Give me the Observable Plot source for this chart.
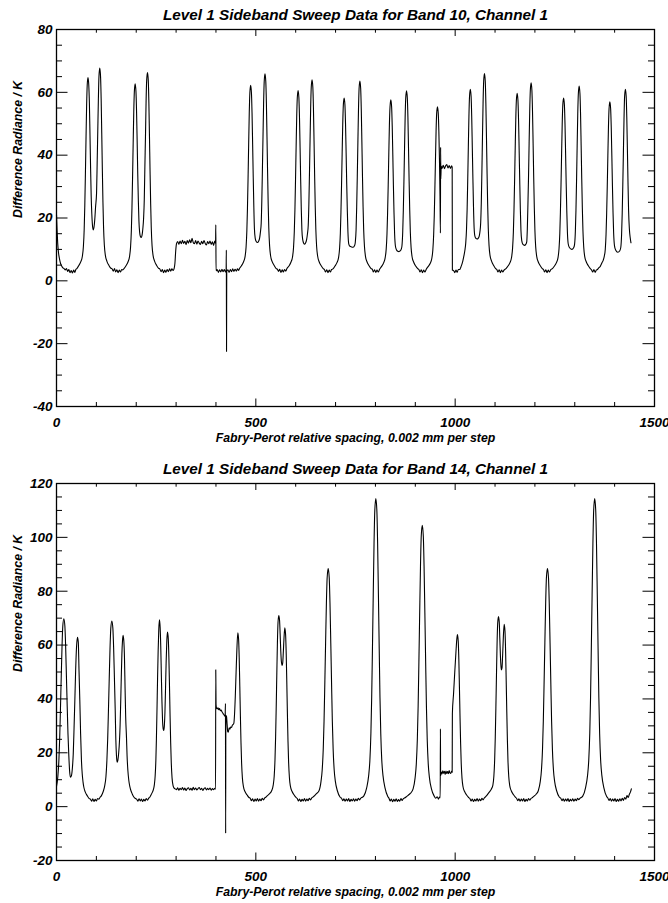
<!DOCTYPE html>
<html><head><meta charset="utf-8">
<script src="https://cdn.jsdelivr.net/npm/d3@7"></script>
<script src="https://cdn.jsdelivr.net/npm/@observablehq/plot@0.6"></script>
<style>body{margin:0;background:#fff} svg{display:block}</style>
</head><body><div id="chart"></div>
<script>
const xMajor = [0, 500, 1000, 1500];
const xMinor = [100, 200, 300, 400, 600, 700, 800, 900, 1100, 1200, 1300, 1400];
const yMajor10 = [-40, -20, 0, 20, 40, 60, 80];
const yMinor10 = [-35, -30, -25, -15, -10, -5, 5, 10, 15, 25, 30, 35, 45, 50, 55, 65, 70, 75];
const yMajor14 = [-20, 0, 20, 40, 60, 80, 100, 120];
const yMinor14 = [-15, -10, -5, 5, 10, 15, 25, 30, 35, 45, 50, 55, 65, 70, 75, 85, 90, 95, 105, 110, 115];
const titles = ["Level 1 Sideband Sweep Data for Band 10, Channel 1", "Level 1 Sideband Sweep Data for Band 14, Channel 1"];
const xLabel = "Fabry-Perot relative spacing, 0.002 mm per step";
const yLabel = "Difference Radiance / K";

// Band 10 sweep: [step, radiance K]
const band10 = [
[0,21],[1.5,16],[3,12],[5,9],[7.5,7],[10,5.6],[13,4.7],[16,4.1],[19,3.9],[22,3.5],[25,3.9],[28,3.0],[31,3.6],[34,2.6],[37,3.3],[40,2.5],[43,3.4],[46,2.7],[48.5,3.6],
[51,3.9],[56,4.9],[61,6.1],[65,7.9],[67.5,11],[69.5,16.6],[71,24],[72.5,34],[74,45],[75.5,55.4],[77,62.2],[79,64.7],[81,62.2],[82.5,56.5],[84,46.5],[85.5,36],[87,27],[88.5,21.5],[90,18],[92,16.2],[94,17],[96,19.5],[98,23.5],[100.5,28],[102,37.5],[103.5,47.5],[105,57.5],[106.5,65],[108.5,67.7],[110.5,65],[112,58],[113.5,47],[115,35.4],[116.5,25],[118,17.2],[120,11.4],[122.5,8.2],[126.5,6.2],[131.5,4.9],[136.5,4.0],
[139.5,3.8],[142.5,3.1],[145.5,3.9],[148.5,2.8],[151.5,3.5],[154.5,2.6],[157.5,3.4],[160.5,2.8],[163.5,3.6],[166.5,3.5],
[169.3,3.9],[174.3,4.8],[179.3,6],[183.3,7.8],[185.8,10.8],[187.8,16.1],[189.3,23.3],[190.8,32.9],[192.3,43.6],[193.8,53.7],[195.3,60.3],[197.3,62.7],[199.3,60.3],[200.8,54],[202.3,44.5],[203.8,34],[205.3,25.5],[206.8,19],[208.5,15.5],[210.5,14.1],[212.4,13.8],[214.5,14.5],[216.5,16.5],[218.5,20],[220.2,26],[221.7,36.5],[223.2,46],[224.7,57],[226.2,63.8],[228.2,66.3],[230.2,63.8],[231.7,56.8],[233.2,46],[234.7,34.7],[236.2,24.5],[237.7,16.9],[239.7,11.2],[242.2,8.1],[246.2,6.2],[251.2,4.9],[256.2,4.0],
[259.5,3.7],[262.5,2.9],[265.5,3.6],[268.5,2.6],[271.5,3.4],[274.5,2.7],[277.5,3.6],[280.5,2.9],[283.5,3.8],[286.5,3.1],[289.5,3.8],[292.5,3.3],[295,3.9],[297,5.5],[299,9.5],[301,11.8],
[304,12.5],[307,11.6],[310,12.7],[313,11.8],[316,12.9],[319,11.9],[322,12.6],[325,11.5],[328,12.8],[331,12.0],[334,13.1],[337,12.1],[340,13.5],[343,12.2],[346,11.8],[349,12.8],[352,11.7],[355,12.7],[358,12.0],[361,11.6],[364,12.6],[367,11.8],[370,12.8],[373,11.9],[376,11.4],[379,12.5],[382,11.8],[385,12.7],[388,11.6],[391,12.4],[394,11.3],[397,12.7],[399,12.0],[399.6,17.8],[400.2,3.2],
[403,3.6],[406,2.7],[409,3.5],[412,2.8],[415,3.7],[418,2.9],[421,3.6],[424,2.8],[425.5,3.2],[426,9.8],[426.5,-22.5],[427,3.0],[430,3.5],[433,2.7],[436,3.6],[439,2.9],[442,3.8],[445,3.0],[448,3.7],[451,3.1],[454,3.8],[457,3.3],
[459,3.9],[464,4.8],[469,6],[473,7.7],[475.5,10.7],[477.5,16],[479,23.1],[480.5,32.6],[482,43.3],[483.5,53.3],[485,59.8],[487,62.2],[489,59.8],[490.5,53.3],[492,43.4],[493.5,32.8],[495,23.4],[496.5,16.5],[498.5,13.5],[501,12.5],[504,12.2],[507,12.6],[509.5,13.6],[511.5,15.5],[513.5,18.4],[515,25.4],[516.5,35.5],[518,46],[519.5,56.5],[521,63.4],[523,65.9],[525,63.4],[526.5,56.5],[528,45.8],[529.5,34.5],[531,24.4],[532.5,16.8],[534.5,11.2],[537,8],[541,6.1],[546,4.9],[551,3.9],
[554,3.7],[557,3.0],[560,3.7],[563,2.7],[566,3.5],[569,2.8],[572,3.6],[575,3.1],[578,3.9],[583,4.7],[588,5.9],[592,7.6],[594.5,10.5],[596.5,15.7],[598,22.4],[599.5,31.8],[601,42.2],[602.5,52],[604,58.3],[606,60.6],[608,58.3],[609.5,52],[611,42.4],[612.5,32],[614,22.9],[615.5,16.3],[617.5,13.2],[620,12],[622.5,11.7],[625,12.1],[627.5,13.2],[629.5,15],[631.5,17.8],[633,24.3],[634.5,34],[636,44.5],[637.5,54.9],[639,61.6],[641,64],[643,61.6],[644.5,54.9],[646,44.5],[647.5,33.5],[649,23.7],[650.5,16.4],[652.5,10.9],[655,7.9],[659,6],[664,4.8],[669,3.9],
[672,3.6],[675,2.8],[678,3.5],[681,2.6],[684,3.4],[687,2.8],[690,3.6],[693.5,3.8],[698.5,4.7],[703.5,5.8],[707.5,7.4],[710,10.2],[712,15.1],[713.5,21.8],[715,30.6],[716.5,40.5],[718,49.9],[719.5,56],[721.5,58.2],[723.5,56],[725,49.9],[726.5,40.6],[728,30.8],[729.5,22.2],[731,15.6],[733,11.8],[736,11],[740,10.8],[744,10.7],[748,11.3],[749.5,12.3],[751.5,16.3],[753,23.6],[754.5,33.3],[756,44.2],[757.5,54.5],[759,61.2],[761,63.6],[763,61.2],[764.5,54.5],[766,44.2],[767.5,33.3],[769,23.6],[770.5,16.3],[772.5,10.9],[775,7.8],[779,6],[784,4.8],[789,3.9],
[792,3.7],[795,2.8],[798,3.5],[801,2.7],[804,3.4],[807,2.8],[810.5,3.7],[815.5,4.6],[820.5,5.7],[824.5,7.4],[827,10.1],[829,15],[830.5,21.6],[832,30.3],[833.5,40.1],[835,49.4],[836.6,55.4],[838.6,57.6],[840.6,55.4],[842.1,49.4],[843.6,40.1],[845.1,30.3],[846.6,21.6],[848.1,15],[850.1,11.1],[853,9.8],[856,9.4],[859,9.3],[862,9.5],[865,10.2],[866.5,11.1],[868.5,15.7],[870,22.6],[871.5,31.8],[873,42.1],[874.5,51.9],[876,58.2],[878,60.5],[880,58.2],[881.5,51.9],[883,42.1],[884.5,31.8],[886,22.6],[887.5,15.6],[889.5,10.5],[892,7.6],[896,5.9],[901,4.7],[906,3.9],
[909,3.6],[912,2.8],[915,3.5],[918,2.6],[921,3.4],[924,2.8],[927.5,3.7],[932.5,4.6],[937.5,5.6],[941.5,7.2],[944,9.8],[946,14.5],[947.6,20.8],[949.1,29.2],[950.6,38.6],[952.1,47.5],[953.6,53.3],[955.6,55.4],[957.6,53.3],[959.1,47.5],[960.6,38.6],[962,27],[963,15.2],[963.5,42.5],[964,32.5],[965,36.5],[967,35.8],[970,36.8],[973,35.7],[976,36.6],[979,37.0],[982,35.9],[985,36.7],[988,35.8],[991,36.6],[992.5,36.2],[993,3.4],[996,3.3],[999,2.6],[1002,3.4],[1005,2.7],[1008,3.6],
[1011,3.6],[1015,4.6],[1019,6.2],[1022,8],[1024.5,9.8],[1026.5,12],[1028.5,16.5],[1030,22.7],[1031.5,32],[1033,42.4],[1034.5,52.3],[1036,58.7],[1038,61],[1040,58.7],[1041.5,52.3],[1043,42.4],[1044.5,32.5],[1046,23.5],[1047.5,17],[1049.5,14.2],[1052,13.5],[1055,13.3],[1058,13.6],[1060.5,14.3],[1062,15.5],[1064,18.5],[1065.5,24.6],[1067,34.5],[1068.5,45.8],[1070,56.5],[1071.5,63.5],[1073.5,66],[1075.5,63.5],[1077,56.5],[1078.5,45.8],[1080,34.5],[1081.5,24.4],[1083,16.9],[1085,11.2],[1087.5,8],[1091.5,6.2],[1096.5,4.9],[1101.5,3.9],
[1104.5,3.6],[1107.5,2.8],[1110.5,3.5],[1113.5,2.6],[1116.5,3.4],[1119.5,2.8],[1122.5,3.4],[1127.5,3.9],[1132.5,4.7],[1137.5,5.8],[1141.5,7.5],[1144,10.4],[1146,15.5],[1147.5,22.3],[1149,31.4],[1150.5,41.6],[1152,51.2],[1153.5,57.4],[1155.5,59.7],[1157.5,57.4],[1159,51.2],[1160.5,41.6],[1162,31.6],[1163.5,22.6],[1165,16],[1167,12.8],[1170,11.6],[1174,11.3],[1177,11.6],[1179.5,12.4],[1181,16.5],[1182.5,24.4],[1184,33],[1185.5,43.8],[1187,54],[1188.5,60.6],[1190.5,63],[1192.5,60.6],[1194,54],[1195.5,43.8],[1197,33],[1198.5,23.4],[1200,16.2],[1202,10.8],[1204.5,7.8],[1208.5,6],[1213.5,4.8],[1218.5,3.9],
[1221.5,3.6],[1224.5,2.8],[1227.5,3.5],[1230.5,2.6],[1233.5,3.4],[1236.5,2.8],[1239.5,3.5],[1244,3.9],[1249,4.7],[1254,5.8],[1258,7.4],[1260.5,10.2],[1262.5,15.1],[1264,21.8],[1265.5,30.6],[1267,40.5],[1268.5,49.9],[1270,56],[1272,58.2],[1274,56],[1275.5,49.9],[1277,40.6],[1278.5,30.8],[1280,22.2],[1281.5,15.6],[1283.5,11.8],[1286.5,10.6],[1292.5,10],[1297.5,10.6],[1299.5,11.6],[1301.5,15.8],[1303,22.5],[1304.5,32],[1306,43],[1307.5,53.2],[1309,59.6],[1311,62],[1313,59.6],[1314.5,53.2],[1316,43.1],[1317.5,32.5],[1319,23.1],[1320.5,16],[1322.5,10.7],[1325,7.7],[1329,6],[1334,4.8],[1339,3.9],
[1342,3.5],[1345,2.8],[1348,3.6],[1351,2.7],[1354,3.4],[1357,3.6],[1360,4.1],[1364,4.6],[1368,5.7],[1371.5,6.6],[1374,7.8],[1376.5,10],[1378.5,14.9],[1380,21.4],[1381.5,30],[1383,39.7],[1384.5,48.9],[1386,54.8],[1388,57],[1390,54.8],[1391.5,48.9],[1393,39.8],[1394.5,30.2],[1396,21.7],[1397.5,15.2],[1399.5,11.3],[1402.5,9.8],[1408,9.1],[1413,9.6],[1415.5,10.7],[1417.5,14.8],[1419,21.4],[1420.5,30.6],[1422,41],[1423.5,51.3],[1425,58.7],[1427,61],[1429,58.7],[1430.5,52],[1432,42],[1433.5,31.5],[1435,22.5],[1437,16.5],[1439,13.8],[1441,12.1]
];

// Band 14 sweep: [step, radiance K]
const band14 = [
[0,7.5],[3.4,11.2],[6,17.3],[8,25.4],[9.9,36.2],[11.9,48.3],[13.9,59.7],[15.8,67.1],[18.4,69.8],[21,67.1],[22.9,59.7],[24.9,48.3],[26.9,37],[28.8,27],[30.8,19.3],[33,13],[35,10.9],[37.5,11.5],[40,14.6],[42,19.5],[44,29],[46,39.4],[48,50.5],[50.3,59.5],[52.7,62.9],[54.7,61],[56.5,50.5],[58.5,39.4],[60.5,27],[62.5,17.5],[64.5,12.2],[66.5,9.2],[68.6,7.2],[72,5.5],[77,4.1],[82,3.0],
[85,2.8],[88,2.0],[91,2.9],[94,1.9],[97,2.7],[100,2.1],[103,3.0],[106,2.8],[109,3.4],[112,3.9],[115,4.8],[118,6],[121,7.8],[124,11.1],[126.4,17.1],[128.4,25.1],[130.3,35.7],[132.3,47.7],[134.3,59],[136.2,66.2],[138.8,68.9],[141.4,66.2],[143.3,59],[145.3,47.7],[147.3,35.7],[148.8,25],[150.4,19],[152,16.5],[154,17.3],[156,20],[158,24.5],[159.5,30],[161,38.5],[162.5,48],[164,56.5],[165.5,61.5],[167,63.6],[169,61.2],[170.5,55.4],[172,44],[173.5,33.5],[175.6,25.5],[177,19],[179,13.5],[181.4,9.7],[184,7.4],[187,5.8],[190,4.7],[194,3.6],[198,3],
[201,2.8],[204,2.0],[207,2.9],[210,2.1],[213,2.8],[216,1.9],[219,2.7],[222,2.1],[225,3.0],[228,2.4],[231,3.1],[234,3.5],[237,4.3],[240,5.2],[243,6.3],[245.5,8.2],[247.5,11.5],[249.2,17],[250.6,25],[252,35.5],[253.5,47.5],[255,58],[256.6,66],[258.3,69.4],[260,66.5],[261.5,59.5],[263,49],[264.5,39],[266,32],[267.5,29],[269,28.3],[270.5,30],[272,35],[273.5,44],[275,53.5],[276.7,61.5],[278.4,64.8],[280.4,62.3],[281.9,55.4],[283.4,44.9],[284.9,33.6],[286.4,23.7],[287.9,16.2],[289.9,10.6],[292.4,7.8],[295,6.9],[298,6.6],
[301,6.3],[304,7.0],[307,6.1],[310,6.8],[313,6.3],[316,7.1],[319,6.2],[322,6.9],[325,6.0],[328,6.7],[331,7.0],[334,6.2],[337,6.8],[340,6.1],[343,7.2],[346,6.3],[349,6.9],[352,6.2],[355,6.7],[358,7.1],[361,6.3],[364,6.8],[367,6.0],[370,6.7],[373,7.0],[376,6.2],[379,6.8],[382,6.3],[385,6.9],[388,6.1],[391,6.7],[394,6.3],[397,6.8],[399,6.5],
[399.5,50.8],[400.2,38],[401,36.9],[403,36.3],[405,36.7],[407,36],[409,36.4],[411,35.6],[413,35.9],[415,35.2],[417,34.8],[419,34.3],[421,33.9],[423,33.5],[423.8,38.3],[424.3,-9.9],[424.8,33.8],[426.5,33.4],[428,30.5],[429.5,27.8],[431,27.6],[433,29.3],[435,28.8],[437,29.6],[439,29.4],[441,30.2],[443,30.5],[444.8,30.9],[446.5,34],[448.5,41],[450.5,50],[452.5,58.5],[454.8,64.6],[456.8,62.1],[458.3,55.3],[459.8,44.7],[461.3,33.6],[462.8,23.6],[464.3,16.2],[466.3,10.6],[468.8,7.5],[472.8,5.6],[477.8,4.4],[482.8,3.4],
[486,3.1],[489,2.2],[492,2.9],[495,1.9],[498,2.8],[501,2.1],[504,3.0],[507,2.0],[510,2.8],[513,2.2],[516,3.1],[519,2.5],[522,3.2],[525,3.5],[529,4.1],[534.6,4.8],[539.6,5.9],[543.6,8],[546.1,11.4],[548.1,17.6],[549.6,25.8],[551.1,36.8],[552.6,49.1],[554.1,60.7],[555.6,68.3],[557.6,71],[559.6,69],[561,64],[562.5,58],[564,54],[566,52.4],[567.5,53.5],[569,57.5],[570.8,63],[572.7,66.4],[574.7,63.8],[576.2,56.8],[577.7,46],[579.2,34.5],[580.7,24.2],[582.2,16.6],[584.2,10.8],[586.7,7.6],[590.7,5.7],[595.7,4.4],[600.7,3.4],
[604,3.0],[607,2.1],[610,2.8],[613,1.9],[616,2.7],[619,2.1],[622,3.0],[625,2.0],[628,2.8],[631,2.2],[634,3.1],[637,2.5],[640,3.2],[644,3.6],[648,4.2],[652,4.8],[658.5,5.9],[663.5,9.4],[666.5,13.7],[669.1,21.4],[671.1,31.7],[673,45.5],[675,60.9],[677,75.5],[678.9,85],[681.5,88.4],[684.1,85],[686,75.5],[688,60.9],[690,45.5],[691.9,31.7],[693.9,21.4],[696.5,13.7],[699.5,9.4],[704.5,5.9],[711.5,3.5],
[715,3.1],[718,2.2],[721,2.9],[724,2.0],[727,2.8],[730,2.1],[733,3.0],[736,1.9],[739,2.7],[742,2.1],[745,2.9],[748,2.0],[751,2.8],[754,2.2],[757,3.1],[760,2.5],[763,3.1],[767,3.5],[771,4.0],[778,7],[783,11.5],[786,17],[788.6,27.1],[790.6,40.5],[792.5,58.5],[794.5,78.6],[796.5,97.6],[798.4,109.9],[801,114.4],[803.6,109.9],[805.5,97.6],[807.5,78.6],[809.5,58.5],[811.4,40.5],[813.4,27.1],[816,17],[819,11.5],[824,7],[831,3.8],
[834,3.1],[837,2.1],[840,2.8],[843,1.8],[846,2.7],[849,2.0],[852,2.9],[855,1.9],[858,2.6],[861,2.0],[864,3.0],[867,2.3],[870,3.0],[873,3.2],[877,3.6],[882,4.2],[887.5,4.9],[894.5,6.6],[899.5,10.7],[902.5,15.8],[905.1,24.9],[907.1,37.2],[909,53.5],[911,71.9],[913,89.2],[914.9,100.4],[917.5,104.5],[920.1,100.4],[922,89.2],[924,71.9],[926,53.5],[927.9,37.2],[929.9,24.9],[932.5,15.8],[935.5,10.7],[940.5,6.6],[947.5,3.9],[951,3.1],[955,3.7],[958,2.8],[961,3.6],[962.5,3.3],[963,28.9],[963.5,11.5],[965,12.8],[967,12.1],[969,13.3],[971,12.4],[973,13.1],[975,12.0],[977,13.2],[979,12.3],[981,13.0],[983,12.2],[985,13.4],[987,12.5],[989,12.3],[991,13.1],[992.5,12.8],[993,34.5],[996,42],[999,50],[1002,57.5],[1004,62],[1005.7,63.9],[1007.7,61.4],[1009.2,54.7],[1010.7,44.3],[1012.2,33.2],[1013.7,23.4],[1015.2,16],[1017.2,10.5],[1019.7,7.4],[1023.7,5.6],[1028.7,4.3],[1033.7,3.4],
[1037,3.0],[1040,2.1],[1043,2.8],[1046,1.9],[1049,2.7],[1052,2.1],[1055,3.0],[1058,2.0],[1061,2.8],[1064,2.2],[1067,3.1],[1070,2.5],[1073,3.2],[1076.5,3.7],[1080.5,4.4],[1085.5,5.4],[1090.6,6.5],[1094.6,8],[1097.1,11.4],[1099.1,17.5],[1100.6,25.7],[1102.1,36.6],[1103.6,48.8],[1105.1,60.4],[1106.6,67.9],[1108.6,70.6],[1110.6,68.5],[1112,62.5],[1113.5,56],[1115,52],[1116,50.8],[1117.5,51.5],[1119,56],[1121,63.5],[1123,67.7],[1125,65.1],[1126.5,57.9],[1128,46.8],[1129.5,35.1],[1131,24.7],[1132.5,16.8],[1134.5,11],[1137,7.7],[1141,5.8],[1146,4.5],[1151,3.5],
[1154,3.1],[1157,2.2],[1160,2.9],[1163,2.0],[1166,2.8],[1169,2.1],[1172,3.0],[1175,1.9],[1178,2.7],[1181,2.1],[1184,3.0],[1187,2.4],[1190,3.0],[1194,3.4],[1198,3.9],[1203,4.6],[1208.5,5.9],[1213.5,9.4],[1216.5,13.7],[1219.1,21.4],[1221.1,31.7],[1223,45.5],[1225,60.9],[1227,75.5],[1228.9,85],[1231.5,88.4],[1234.1,85],[1236,75.5],[1238,60.9],[1240,45.5],[1241.9,31.7],[1243.9,21.4],[1246.5,13.7],[1249.5,9.4],[1254.5,5.9],[1261.5,3.5],
[1265,3.1],[1268,2.2],[1271,2.9],[1274,2.0],[1277,2.8],[1280,2.1],[1283,3.0],[1286,1.9],[1289,2.7],[1292,2.1],[1295,2.9],[1298,2.0],[1301,2.8],[1304,2.2],[1307,3.1],[1310,2.6],[1313,3.1],[1316,3.4],[1320,3.9],[1327,7],[1332,11.5],[1335,17],[1337.6,27.1],[1339.6,40.5],[1341.5,58.5],[1343.5,78.6],[1345.5,97.6],[1347.4,109.9],[1350,114.4],[1352.6,109.9],[1354.5,97.6],[1356.5,78.6],[1358.5,58.5],[1360.4,40.5],[1362.4,27.1],[1365,17],[1368,11.5],[1373,7],[1380,3.8],
[1383,3.2],[1386,2.3],[1389,3.0],[1392,2.0],[1395,2.8],[1398,2.1],[1401,3.0],[1404,1.9],[1407,2.7],[1410,2.0],[1413,2.9],[1416,2.1],[1419,3.1],[1422,2.3],[1425,3.4],[1428,2.8],[1431,4.1],[1434,3.4],[1437,4.6],[1440,5.6],[1442,6.6]
];

const font = {fontFamily: "'Liberation Sans', Arial, Helvetica, sans-serif", fontWeight: "bold", fontStyle: "italic", fill: "black"};

function panel({data, yDomain, yMajor, yMinor, title, height, marginTop, marginBottom}) {
  const W = 668, ml = 56, mr = 14;
  const pw = W - ml - mr, ph = height - marginTop - marginBottom;
  return Plot.plot({
    width: W, height, marginLeft: ml, marginRight: mr, marginTop, marginBottom,
    x: {domain: [0, 1500], axis: null},
    y: {domain: yDomain, axis: null},
    style: {background: "white", overflow: "visible", color: "black"},
    marks: [
      Plot.line(data, {x: d => d[0], y: d => d[1], curve: "monotone-x", stroke: "black", strokeWidth: 1.1}),
      Plot.tickX(xMajor, {x: d => d, insetTop: ph - 7.5, stroke: "black"}),
      Plot.tickX(xMinor, {x: d => d, insetTop: ph - 4, stroke: "black"}),
      Plot.tickX(xMajor, {x: d => d, insetBottom: ph - 7, stroke: "black"}),
      Plot.tickX(xMinor, {x: d => d, insetBottom: ph - 3.7, stroke: "black"}),
      Plot.tickY(yMajor, {y: d => d, insetRight: pw - 11.5, stroke: "black"}),
      Plot.tickY(yMinor, {y: d => d, insetRight: pw - 6, stroke: "black"}),
      Plot.tickY(yMajor, {y: d => d, insetLeft: pw - 11.5, stroke: "black"}),
      Plot.tickY(yMinor, {y: d => d, insetLeft: pw - 6, stroke: "black"}),
      Plot.frame({stroke: "black", strokeWidth: 1.3}),
      Plot.text(xMajor, {x: d => d, text: d => String(d), frameAnchor: "bottom", lineAnchor: "bottom", dy: 20, fontSize: 13.5, ...font}),
      Plot.text(yMajor, {y: d => d, text: d => String(d), frameAnchor: "left", textAnchor: "end", dx: -4, fontSize: 13.5, ...font}),
      Plot.text([title], {text: d => d, frameAnchor: "top", lineAnchor: "bottom", dy: -9.7, fontSize: 15.3, ...font}),
      Plot.text([xLabel], {text: d => d, frameAnchor: "bottom", lineAnchor: "bottom", dy: 35.5, fontSize: 12.3, ...font}),
      Plot.text([yLabel], {text: d => d, frameAnchor: "left", rotate: -90, lineAnchor: "bottom", dx: -34.3, fontSize: 12.3, ...font})
    ]
  });
}

const root = document.getElementById("chart");
root.append(panel({data: band10, yDomain: [-40, 80], yMajor: yMajor10, yMinor: yMinor10, title: titles[0], height: 451, marginTop: 29, marginBottom: 45}));
root.append(panel({data: band14, yDomain: [-20, 120], yMajor: yMajor14, yMinor: yMinor14, title: titles[1], height: 452, marginTop: 32, marginBottom: 43}));
</script>
</body></html>
